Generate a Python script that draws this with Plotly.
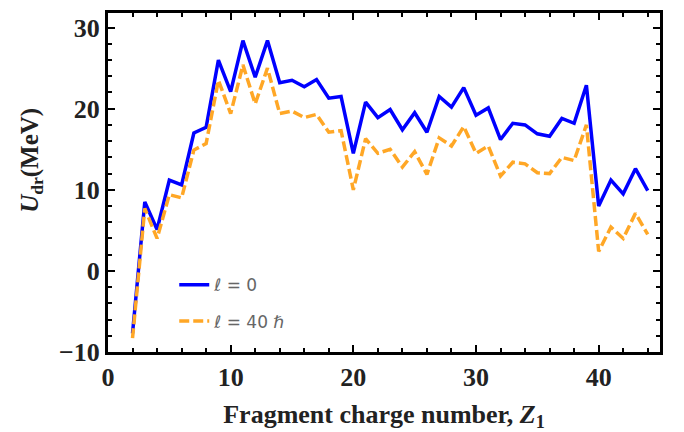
import plotly.graph_objects as go

Z1 = list(range(2, 45))
U_l0 = [-7.7, 8.5, 5.1, 11.2, 10.6, 17.0, 17.7, 26.0, 22.1, 28.4, 23.9, 28.4, 23.2, 23.5, 22.7, 23.6,
        21.3, 21.5, 14.5, 20.8, 18.9, 19.9, 17.4, 19.5, 17.1, 21.5, 20.2, 22.6, 19.2, 20.1, 16.2,
        18.2, 18.0, 16.9, 16.6, 18.8, 18.2, 22.9, 8.0, 11.2, 9.5, 12.6, 9.9]
U_l40 = [-8.3, 7.7, 4.0, 9.4, 9.0, 14.9, 15.7, 23.5, 19.4, 25.4, 20.6, 25.0, 19.4, 19.7, 18.9, 19.3,
         17.1, 17.3, 10.0, 16.3, 14.5, 15.0, 12.8, 14.7, 11.9, 16.4, 15.4, 17.8, 14.5, 15.4, 11.7,
         13.4, 13.2, 12.1, 12.0, 14.0, 13.6, 18.0, 2.4, 5.4, 4.0, 7.1, 4.5]
series_names = ["\u2113 = 0", "\u2113 = 40 \u210f"]
x_ticks = [0, 10, 20, 30, 40]
y_ticks = [-10, 0, 10, 20, 30]

serif = "Liberation Serif, Times New Roman, serif"

fig = go.Figure()
fig.add_trace(go.Scatter(x=Z1, y=U_l0, mode="lines", name=series_names[0],
                         line=dict(color="#0000FF", width=3.5), legendgroup="a"))
fig.add_trace(go.Scatter(x=Z1, y=U_l40, mode="lines", name=series_names[1],
                         line=dict(color="#FFA726", width=3.5, dash="10px,4px"), legendgroup="b"))

axis_common = dict(
    showline=True, linewidth=3, linecolor="black", mirror="allticks",
    ticks="inside", ticklen=7, tickwidth=2, tickcolor="black",
    showgrid=False, zeroline=False, automargin=False,
    tickfont=dict(family=serif, size=26, color="#222222", weight="bold"),
    minor=dict(ticks="inside", ticklen=4, tickwidth=2, tickcolor="black", dtick=2, showgrid=False),
)

fig.update_layout(
    width=684, height=432,
    margin=dict(l=108, r=24, t=13, b=80),
    plot_bgcolor="white", paper_bgcolor="white",
    xaxis=dict(range=[0, 45], tickvals=x_ticks, **axis_common,
               title=dict(text="<b>Fragment charge number, <i>Z</i><sub>1</sub></b>",
                          font=dict(family=serif, size=26, color="#222222"), standoff=14)),
    yaxis=dict(range=[-10, 31.8], tickvals=y_ticks, **axis_common),
    legend=dict(x=0.12, y=0.25, xanchor="left", yanchor="top", bgcolor="rgba(0,0,0,0)",
                font=dict(family="DejaVu Sans", size=17, color="#666666"),
                tracegroupgap=11),
    showlegend=True,
    annotations=[dict(text="<b><i>U</i><sub>dr</sub>(MeV)</b>", textangle=-90,
                      xref="paper", yref="paper", x=-0.14, y=0.566,
                      xanchor="center", yanchor="middle", showarrow=False,
                      font=dict(family=serif, size=25, color="#222222"))],
)

fig.write_html("out.html")
